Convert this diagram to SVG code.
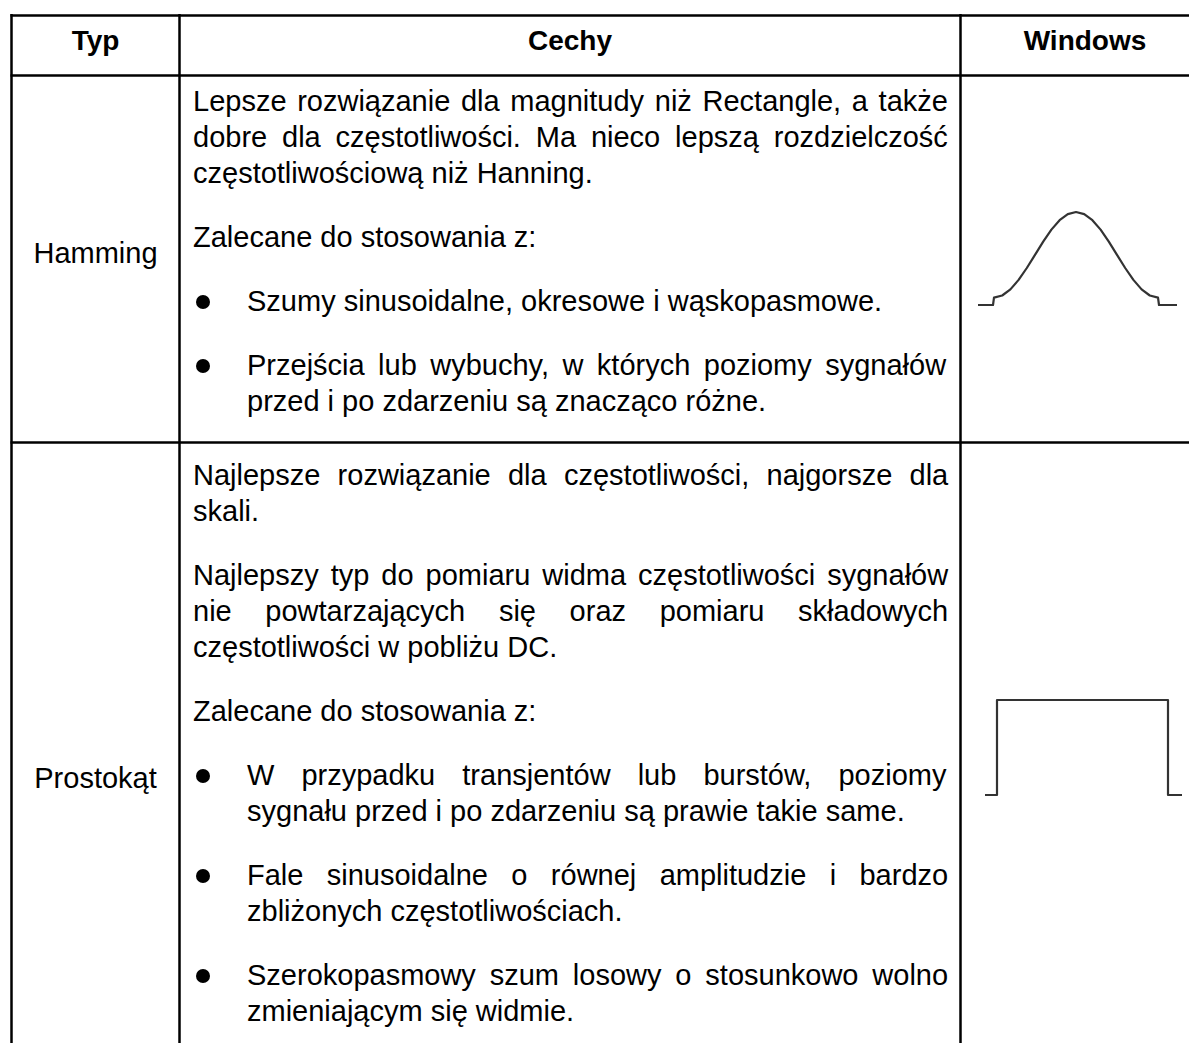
<svg xmlns="http://www.w3.org/2000/svg" width="1189" height="1043" viewBox="0 0 1189 1043">
<style>
.t { font-family: "Liberation Sans", Arial, "DejaVu Sans", sans-serif; font-size: 29px; fill: #000; }
.h { font-weight: bold; font-size: 28px; text-anchor: middle; }
.c { text-anchor: middle; }
.grid { stroke: #000; stroke-width: 2.5; fill: none; }
.wave { fill: none; stroke: #333; stroke-width: 2.2; stroke-linejoin: round; stroke-linecap: butt; }
.dot { fill: #000; }
</style>
<rect x="0" y="0" width="1189" height="1043" fill="#fff"/>
<g id="table-grid">
  <line class="grid" x1="10.5" y1="15.5" x2="1189" y2="15.5"/>
  <line class="grid" x1="10.5" y1="75.5" x2="1189" y2="75.5"/>
  <line class="grid" x1="10.5" y1="442.5" x2="1189" y2="442.5"/>
  <line class="grid" x1="11.5" y1="14" x2="11.5" y2="1043"/>
  <line class="grid" x1="179.5" y1="14" x2="179.5" y2="1043"/>
  <line class="grid" x1="960.5" y1="14" x2="960.5" y2="1043"/>
</g>
<g id="header">
  <text class="t h" x="95.5" y="50">Typ</text>
  <text class="t h" x="570" y="50">Cechy</text>
  <text class="t h" x="1085" y="50">Windows</text>
</g>
<g id="row-hamming">
  <text class="t c" x="95.5" y="263">Hamming</text>
  <text class="t" x="193" y="111" style="word-spacing:2.6px">Lepsze rozwiązanie dla magnitudy niż Rectangle, a także</text>
  <text class="t" x="193" y="147" style="word-spacing:6.8px">dobre dla częstotliwości. Ma nieco lepszą rozdzielczość</text>
  <text class="t" x="193" y="183">częstotliwościową niż Hanning.</text>
  <text class="t" x="193" y="247">Zalecane do stosowania z:</text>
  <circle class="dot" cx="203" cy="302" r="7"/>
  <text class="t" x="247" y="311">Szumy sinusoidalne, okresowe i wąskopasmowe.</text>
  <circle class="dot" cx="203" cy="366" r="7"/>
  <text class="t" x="247" y="375" style="word-spacing:5.4px">Przejścia lub wybuchy, w których poziomy sygnałów</text>
  <text class="t" x="247" y="411">przed i po zdarzeniu są znacząco różne.</text>
</g>
<g id="window-hamming">
  <polyline class="wave" points="978,305 993,305 994,297.6 1002.2,295.5 1010.4,289.4 1018.6,279.9 1026.8,268 1035,254.8 1043.2,241.6 1051.4,229.6 1059.6,220.2 1067.8,214.1 1076,212 1084.2,214.1 1092.4,220.2 1100.6,229.6 1108.8,241.6 1117,254.8 1125.2,268 1133.4,279.9 1141.6,289.4 1149.8,295.5 1158,297.6 1159,305 1177,305"/>
</g>
<g id="row-prostokat">
  <text class="t c" x="95.5" y="788">Prostokąt</text>
  <text class="t" x="193" y="485" style="word-spacing:9.2px">Najlepsze rozwiązanie dla częstotliwości, najgorsze dla</text>
  <text class="t" x="193" y="521">skali.</text>
  <text class="t" x="193" y="585" style="word-spacing:3.9px">Najlepszy typ do pomiaru widma częstotliwości sygnałów</text>
  <text class="t" x="193" y="621" style="word-spacing:25.6px">nie powtarzających się oraz pomiaru składowych</text>
  <text class="t" x="193" y="657">częstotliwości w pobliżu DC.</text>
  <text class="t" x="193" y="721">Zalecane do stosowania z:</text>
  <circle class="dot" cx="203" cy="776" r="7"/>
  <text class="t" x="247" y="785" style="word-spacing:19px">W przypadku transjentów lub burstów, poziomy</text>
  <text class="t" x="247" y="821">sygnału przed i po zdarzeniu są prawie takie same.</text>
  <circle class="dot" cx="203" cy="876" r="7"/>
  <text class="t" x="247" y="885" style="word-spacing:15.3px">Fale sinusoidalne o równej amplitudzie i bardzo</text>
  <text class="t" x="247" y="921">zbliżonych częstotliwościach.</text>
  <circle class="dot" cx="203" cy="976" r="7"/>
  <text class="t" x="247" y="985" style="word-spacing:5.8px">Szerokopasmowy szum losowy o stosunkowo wolno</text>
  <text class="t" x="247" y="1021">zmieniającym się widmie.</text>
</g>
<g id="window-rect">
  <polyline class="wave" points="985,795 997,795 997,700 1168,700 1168,795 1182,795"/>
</g>
</svg>
